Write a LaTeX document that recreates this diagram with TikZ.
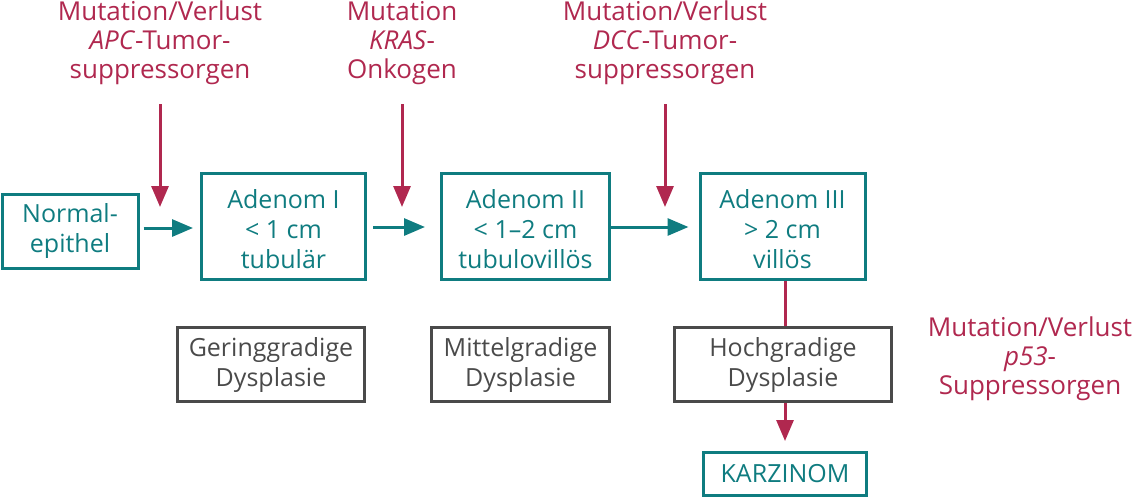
\documentclass[tikz,border=0pt]{standalone}
\usepackage{fontspec}
\setmainfont{Open Sans}
\usetikzlibrary{arrows.meta}
\definecolor{myred}{HTML}{B0284F}
\definecolor{myteal}{HTML}{0F7C80}
\definecolor{mygrey}{HTML}{4A4A4A}
\begin{document}
\begin{tikzpicture}[x=1pt,y=-1pt,
  every node/.style={font=\fontsize{25}{30}\selectfont, align=center, inner sep=0pt},
  tealbox/.style={draw=myteal, line width=3pt, text=myteal, rectangle},
  greybox/.style={draw=mygrey, line width=3pt, text=mygrey, rectangle},
  lbl/.style={text=myred, font=\fontsize{26}{29}\selectfont},
  tealarrow/.style={draw=myteal, line width=3pt, -{Triangle[length=21pt,width=17pt]}},
  redarrow/.style={draw=myred, line width=3pt, -{Triangle[length=21pt,width=17pt]}},
  redline/.style={draw=myred, line width=3pt}]
\useasboundingbox (0,0) rectangle (1140,501);
% adenoma row
\node[tealbox, minimum width=136pt, minimum height=74pt] (ne) at (70,231.5) {Normal-\\epithel};
\node[tealbox, minimum width=164pt, minimum height=106pt] (a1) at (283.5,226.5) {\rule{0pt}{24pt}Adenom I\\< 1 cm\\tubulär};
\node[tealbox, minimum width=168pt, minimum height=106pt] (a2) at (525.5,226.5) {\rule{0pt}{24pt}Adenom II\\< 1–2 cm\\tubulovillös};
\node[tealbox, minimum width=165pt, minimum height=106pt] (a3) at (782.5,226.5) {\rule{0pt}{24pt}Adenom III\\> 2 cm\\villös};
% dysplasia row
\node[greybox, minimum width=187pt, minimum height=74pt] (g1) at (271,364.5) {Geringgradige\\Dysplasie};
\node[greybox, minimum width=178pt, minimum height=74pt] (g2) at (520.5,364.5) {Mittelgradige\\Dysplasie};
\node[greybox, minimum width=217pt, minimum height=74pt] (g3) at (783,364.5) {Hochgradige\\Dysplasie};
\node[tealbox, minimum width=163pt, minimum height=43pt] (ka) at (785,474) {KARZINOM};
% labels
\node[lbl, anchor=north] (l1) at (160,0.5) {\rule{0pt}{20pt}Mutation/Verlust\\\textit{APC}-Tumor-\\suppressorgen};
\node[lbl, anchor=north] (l2) at (402,0.5) {\rule{0pt}{20pt}Mutation\\\textit{KRAS}-\\Onkogen};
\node[lbl, anchor=north] (l3) at (665,0.5) {\rule{0pt}{20pt}Mutation/Verlust\\\textit{DCC}-Tumor-\\suppressorgen};
\node[lbl] (l4) at (1030,359) {Mutation/Verlust\\\textit{p53}-\\Suppressorgen};
% red arrow coordinates
\coordinate (r1s) at (160,104); \coordinate (r1e) at (160,207);
\coordinate (r2s) at (402,104); \coordinate (r2e) at (402,207);
\coordinate (r3s) at (665,104); \coordinate (r3e) at (665,207);
\draw[redarrow] (r1s) -- (r1e);
\draw[redarrow] (r2s) -- (r2e);
\draw[redarrow] (r3s) -- (r3e);
% teal arrows
\draw[tealarrow, shorten <=4pt, shorten >=7pt] (ne.east |- 0,228) -- (a1.west |- 0,228);
\draw[tealarrow, shorten <=6pt, shorten >=15pt] (a1.east |- 0,227) -- (a2.west |- 0,227);
\draw[tealarrow, shorten >=10pt] (a2.east |- 0,227) -- (a3.west |- 0,227);
% p53 path
\draw[redline] (a3.south -| 785,0) -- (g3.north -| 785,0);
\draw[redarrow, shorten >=10pt] (g3.south -| 785,0) -- (ka.north -| 785,0);
\end{tikzpicture}
\end{document}
